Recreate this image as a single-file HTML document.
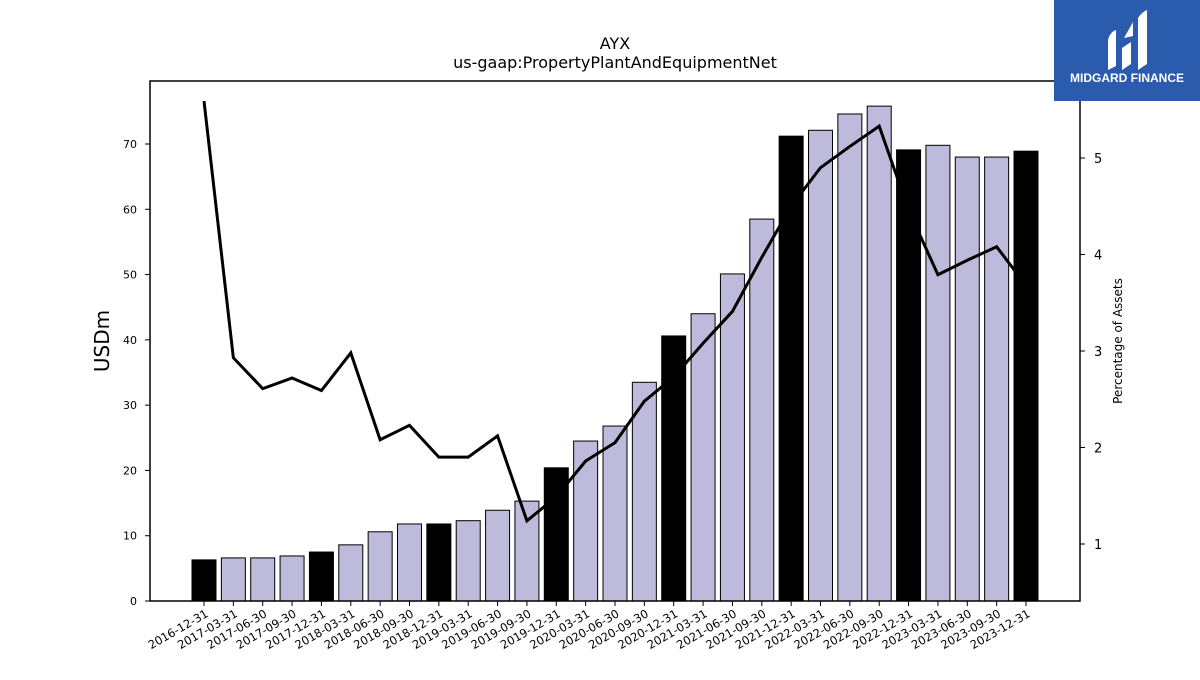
<!DOCTYPE html>
<html><head><meta charset="utf-8"><style>
body{margin:0;background:#fff;font-family:"Liberation Sans","DejaVu Sans",sans-serif}
</style></head><body>
<svg id="chart" width="1200" height="675" xmlns="http://www.w3.org/2000/svg" font-family="DejaVu Sans, Liberation Sans, sans-serif">
<text x="615" y="49" text-anchor="middle" font-size="16">AYX</text>
<text x="615" y="68" text-anchor="middle" font-size="16">us-gaap:PropertyPlantAndEquipmentNet</text>
<g id="bars"></g><g id="line"></g><g id="axes"></g>
<rect x="150" y="81" width="930" height="520" fill="none" stroke="#000" stroke-width="1.5"/>
<text transform="translate(109,341) rotate(-90)" text-anchor="middle" font-size="20">USDm</text>
<text transform="translate(1122,341) rotate(-90)" text-anchor="middle" font-size="12">Percentage of Assets</text>
<g>
<rect x="1054" y="0" width="146" height="101" fill="#2b5bad"/>
<path d="M1108 70 L1108 40 Q1110 32 1116 30 L1116 66 Z M1122 70 L1122 48 L1131 42 L1131 64 Z M1124 38 L1133 22 L1133 36 Z M1138 70 L1138 18 Q1142 12 1147 10 L1147 64 Z" fill="#fff"/>
<text x="1127" y="82" text-anchor="middle" font-size="12" font-weight="bold" fill="#fff" font-family="Liberation Sans, sans-serif">MIDGARD FINANCE</text>
</g>
</svg>
<script>
const categories=["2016-12-31","2017-03-31","2017-06-30","2017-09-30","2017-12-31","2018-03-31","2018-06-30","2018-09-30","2018-12-31","2019-03-31","2019-06-30","2019-09-30","2019-12-31","2020-03-31","2020-06-30","2020-09-30","2020-12-31","2021-03-31","2021-06-30","2021-09-30","2021-12-31","2022-03-31","2022-06-30","2022-09-30","2022-12-31","2023-03-31","2023-06-30","2023-09-30","2023-12-31"];
const ppeValues=[6.3,6.6,6.6,6.9,7.5,8.6,10.6,11.8,11.8,12.3,13.9,15.3,20.4,24.5,26.8,33.5,40.6,44.0,50.1,58.5,71.2,72.1,74.6,75.8,69.1,69.8,68.0,68.0,68.9];
const pctAssets=[5.59,2.93,2.61,2.72,2.59,2.98,2.08,2.23,1.90,1.90,2.12,1.24,1.49,1.86,2.05,2.48,2.73,3.08,3.41,3.97,4.50,4.90,5.12,5.33,4.46,3.79,3.94,4.08,3.68];
const yTicks=[0,10,20,30,40,50,60,70];
const y2Ticks=[1,2,3,4,5];
const NS="http://www.w3.org/2000/svg";
const x=i=>204+i*(822/28);
const y=v=>601-v*(457/70);
const y2=v=>544-(v-1)*96.5;
function mk(t,a,p){const e=document.createElementNS(NS,t);for(const k in a)e.setAttribute(k,a[k]);p.appendChild(e);return e;}
const gb=document.getElementById('bars'),gl=document.getElementById('line'),ga=document.getElementById('axes');
ppeValues.forEach((v,i)=>{const ye=categories[i].endsWith("12-31");
const r=mk('rect',{x:x(i)-12,y:y(v),width:24,height:601-y(v),fill:ye?'#000':'#bdbadb',stroke:'#000','stroke-width':1},gb);

});
const pl=mk('polyline',{points:pctAssets.map((v,i)=>x(i)+','+y2(v)).join(' '),fill:'none',stroke:'#000','stroke-width':3,'stroke-linejoin':'miter'},gl);


yTicks.forEach(t=>{mk('line',{x1:145,x2:150,y1:y(t),y2:y(t),stroke:'#000'},ga);
const tx=mk('text',{x:137,y:y(t)+4,'text-anchor':'end','font-size':11},ga);tx.textContent=t;

});
y2Ticks.forEach(t=>{mk('line',{x1:1080,x2:1085,y1:y2(t),y2:y2(t),stroke:'#000'},ga);
const tx=mk('text',{x:1094,y:y2(t)+5,'font-size':13},ga);tx.textContent=t;

});
categories.forEach((c,i)=>{mk('line',{x1:x(i),x2:x(i),y1:601,y2:606,stroke:'#000'},ga);
const tx=mk('text',{transform:`translate(${x(i)+5},${616}) rotate(-30)`,'text-anchor':'end','font-size':11.5},ga);tx.textContent=c;

});
</script>
</body></html>
